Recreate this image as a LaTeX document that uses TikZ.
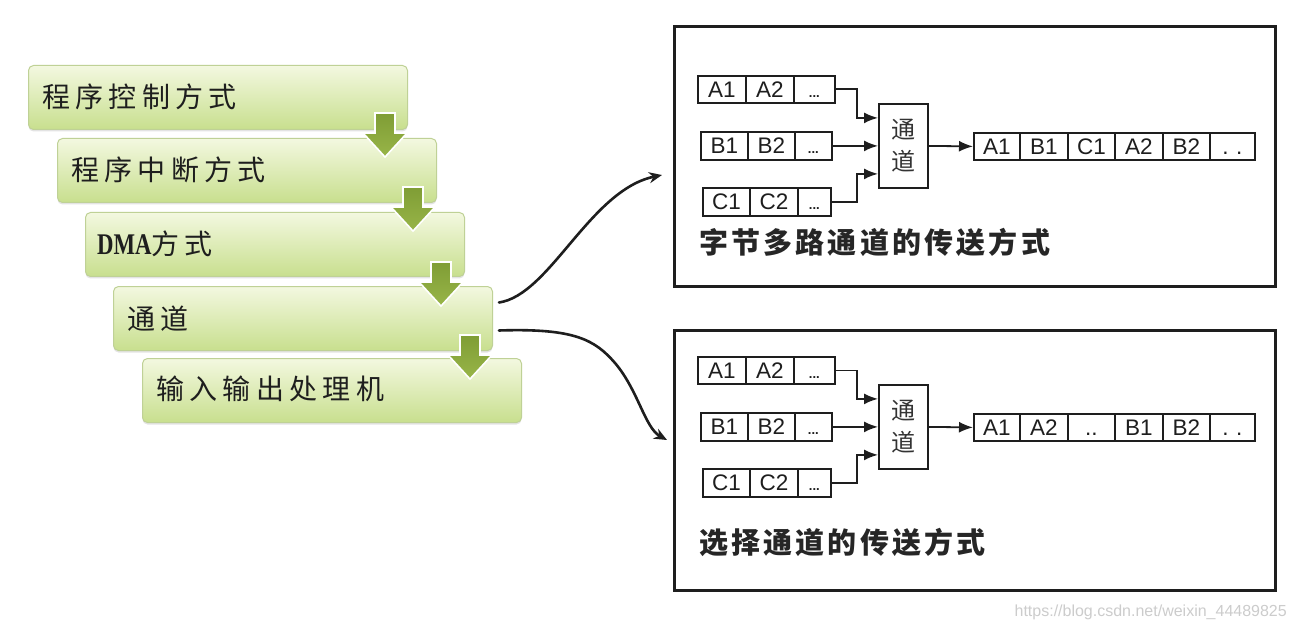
\documentclass[tikz,border=0pt]{standalone}
\usepackage{fontspec}
\setmainfont{Liberation Sans}
\newfontfamily\cjk{Noto Sans CJK SC}
\newfontfamily\cjkbox{Noto Sans CJK SC}[LetterSpace=19]
\newfontfamily\cjklab{Noto Sans CJK SC}[LetterSpace=11]
\newfontfamily\dmafont{Liberation Serif}[FakeStretch=0.76]
\usetikzlibrary{arrows.meta,shadows,calc}
\definecolor{gtop}{HTML}{F3F8E0}
\definecolor{gbot}{HTML}{C8DF8E}
\definecolor{gborder}{HTML}{BFD196}
\definecolor{arrtop}{HTML}{7F9D35}
\definecolor{arrbot}{HTML}{98B548}
\definecolor{inkc}{HTML}{1E1E1E}
\newcommand{\darrow}[2]{%
  \path[darr] (#1-10,#2) -- (#1+10,#2) -- (#1+10,#2+20) -- (#1+22,#2+20)
    -- (#1,#2+44) -- (#1-22,#2+20) -- (#1-10,#2+20) -- cycle;}
\newcommand{\chanpanel}[8]{%
  \begin{scope}[shift={(0,#2)}]
    % input rows
    \node[cell, minimum width=48, minimum height=27] (#1A1) at (697,75) {A1};
    \node[cell, minimum width=48, minimum height=27] (#1A2) at (745,75) {A2};
    \node[cell, dots, minimum width=41, minimum height=27] (#1A3) at (793,75) {...};
    \node[cell, minimum width=47, minimum height=28] (#1B1) at (700,131) {B1};
    \node[cell, minimum width=47, minimum height=28] (#1B2) at (747,131) {B2};
    \node[cell, dots, minimum width=37, minimum height=28] (#1B3) at (794,131) {...};
    \node[cell, minimum width=47, minimum height=28] (#1C1) at (702,187) {C1};
    \node[cell, minimum width=48, minimum height=28] (#1C2) at (749,187) {C2};
    \node[cell, dots, minimum width=33, minimum height=28] (#1C3) at (797,187) {...};
    % channel
    \node[chan] (#1ch) at (878,103) {通\\道};
    % output row
    \node[cell, minimum width=46, minimum height=27] (#1O1) at (973,132) {#3};
    \node[cell, minimum width=48, minimum height=27] (#1O2) at (1019,132) {#4};
    \node[cell, minimum width=47, minimum height=27] (#1O3) at (1067,132) {#5};
    \node[cell, minimum width=48, minimum height=27] (#1O4) at (1114,132) {#6};
    \node[cell, minimum width=47, minimum height=27] (#1O5) at (1162,132) {#7};
    \node[cell, minimum width=45, minimum height=27] (#1O6) at (1209,132) {#8};
    % connectors
    \draw[conn] (#1A3.east) -- ++(21,0) |- ($(#1ch.west)+(0,-28)$);
    \draw[conn] (#1B3.east) -- (#1ch.west);
    \draw[conn] (#1C3.east) -- ++(25,0) |- ($(#1ch.west)+(0,28)$);
    \draw[conn] (#1ch.east) -- (#1O1.west);
  \end{scope}}
\begin{document}
\begin{tikzpicture}[x=1pt,y=-1pt,
  gbox/.style={draw=gborder, line width=1pt, rounded corners=5pt,
    top color=gtop, bottom color=gbot, minimum width=379, minimum height=64,
    inner sep=0pt, anchor=north west,
    drop shadow={shadow xshift=0pt, shadow yshift=-2pt, opacity=0.22}},
  gtext/.style={anchor=west, inner sep=0pt, text=inkc,
    font=\cjkbox\fontsize{28}{28}\selectfont},
  darr/.style={draw=white, line width=1.6pt, top color=arrtop, bottom color=arrbot},
  panel/.style={draw=inkc, line width=3pt, anchor=north west, inner sep=0pt,
    minimum width=601, minimum height=260,
    drop shadow={shadow xshift=1.5pt, shadow yshift=-1.5pt, opacity=0.3}, fill=white},
  cell/.style={draw=inkc, line width=1.8pt, anchor=north west, inner sep=0pt,
    text height=16pt, text depth=0pt, font=\fontsize{22.5}{22.5}\selectfont, text=inkc},
  dots/.style={font=\bfseries\fontsize{13}{13}\selectfont},
  chan/.style={draw=inkc, line width=1.8pt, anchor=north west, inner sep=0pt,
    minimum width=49, minimum height=84, align=center, text=black!80,
    font=\cjk\fontsize{24}{32}\selectfont},
  conn/.style={draw=inkc, line width=1.8pt, -{Latex[length=14pt,width=11pt]}},
  lab/.style={anchor=west, inner sep=0pt, text=black!85,
    font=\cjklab\bfseries\fontsize{29}{29}\selectfont},
  curve/.style={draw=inkc, line width=2.6pt, line cap=round,
    -{Stealth[length=13pt,width=11pt]}}
]
\useasboundingbox (0,0) rectangle (1295,636);
\fill[white] (0,0) rectangle (1295,636);

% left cascade of green boxes
\node[gbox] (b1) at (28,65) {};
\node[gbox] (b2) at (57,138) {};
\node[gbox] (b3) at (85,212) {};
\node[gbox] (b4) at (113,286) {};
\node[gbox] (b5) at (142,358) {};
\node[gtext] (t1) at ($(b1.west)+(14,-1)$) {程序控制方式};
\node[gtext] (t2) at ($(b2.west)+(14,-1)$) {程序中断方式};
\node[gtext] (t3) at ($(b3.west)+(12,-1)$) {{\dmafont\bfseries\fontsize{30}{30}\selectfont DMA}方式};
\node[gtext] (t4) at ($(b4.west)+(14,0)$) {通道};
\node[gtext] (t5) at ($(b5.west)+(14,-2)$) {输入输出处理机};
\darrow{385}{113}
\darrow{413}{187}
\darrow{441}{262}
\darrow{470}{335}

% right panels
\node[panel] (p1) at (673,25) {};
\node[panel] (p2) at (673,329) {};
\chanpanel{t}{0}{A1}{B1}{C1}{A2}{B2}{.\,\,.}
\chanpanel{s}{281}{A1}{A2}{..}{B1}{B2}{.\,\,.}
\node[lab] (l1) at (699,242) {字节多路通道的传送方式};
\node[lab] (l2) at (699,542) {选择通道的传送方式};

% curved connectors
\coordinate (e1) at (662,175);
\coordinate (e2) at (667,440);
\draw[curve] ($(b4.east)+(6,-16)$) .. controls (550,295) and (590,190) .. (e1);
\draw[curve] ($(b4.east)+(6,12)$) .. controls (575,328) and (595,340) .. (615,363)
  .. controls (638,390) and (645,428) .. (e2);

% watermark
\node[anchor=east, inner sep=0pt, text=black!20, font=\fontsize{16}{16}\selectfont]
  (wm) at (1287,612) {https://blog.csdn.net/weixin\_44489825};
\end{tikzpicture}
\end{document}
